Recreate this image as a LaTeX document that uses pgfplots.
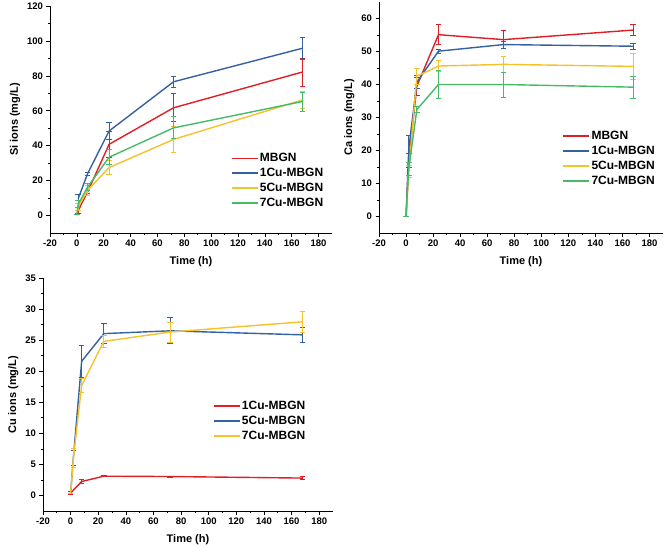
\documentclass[border=0pt]{standalone}
\usepackage{fontspec}
\setmainfont{Liberation Sans}
\usepackage{pgfplots}
\pgfplotsset{compat=1.18}
\usepackage{pgfplotstable}
\definecolor{cred}{RGB}{224,30,38}
\definecolor{cblue}{RGB}{52,98,160}
\definecolor{cyel}{RGB}{246,194,42}
\definecolor{cgreen}{RGB}{70,186,104}

\pgfplotstableread{
x y e
1 3 1.5
8 13.5 1
24 40.8 7.5
72 61.7 8
168 82.2 8
}\SiA
\pgfplotstableread{
x y e
1 9.7 2.5
8 24 0.8
24 48.4 4.7
72 76.6 3
168 95.8 6.2
}\SiB
\pgfplotstableread{
x y e
1 5 2
8 14.5 3
24 27.5 4
72 43.6 7.4
168 66.2 5
}\SiC
\pgfplotstableread{
x y e
0 0.5 0
1 6.5 2
8 16.3 2
24 33.4 4.2
72 50.2 6.3
168 65.3 5.4
}\SiD

\pgfplotstableread{
x y e
0 0 0
2 17 2
8 39.5 2.8
24 55.1 3
72 53.6 2.8
168 56.5 1.6
}\CaA
\pgfplotstableread{
x y e
0 0 0
2 20.5 4
8 40.7 2
24 50.1 0.6
72 52.1 1.1
168 51.6 1
}\CaB
\pgfplotstableread{
x y e
0 0 0
2 13.7 1.8
8 42.5 2.5
24 45.6 1.6
72 46.1 2.3
168 45.5 3.9
}\CaC
\pgfplotstableread{
x y e
0 0 0
2 14.5 2
8 32.4 1
24 40 4.3
72 40 3.8
168 39.2 3.4
}\CaD

\pgfplotstableread{
x y e
0 0.4 0.2
8 2.25 0.3
24 3.1 0.1
72 3.05 0.1
168 2.8 0.2
}\CuA
\pgfplotstableread{
x y e
0 0.3 0
2 6.1 1.2
8 21.6 2.6
24 26.05 1.65
72 26.5 2.1
168 25.85 1.2
}\CuB
\pgfplotstableread{
x y e
0 0.3 0
2 6 1.5
8 17.7 1.1
24 24.8 0.9
72 26.3 1.6
168 27.95 1.7
}\CuC

\pgfplotsset{
  myax/.style={
    scale only axis,
    axis lines=left,
    axis line style={-, line width=0.9pt},
    tick align=outside,
    tick style={black, line width=0.7pt},
    major tick length=3.5pt,
    minor tick length=2pt,
    minor x tick num=1,
    minor y tick num=1,
    xmin=-20, xmax=190,
    xtick={-20,0,20,40,60,80,100,120,140,160,180},
    ticklabel style={font=\fontsize{9.5}{11}\selectfont\bfseries},
    /pgf/number format/assume math mode=true,
    label style={font=\fontsize{11}{12}\selectfont\bfseries},
    xlabel={Time (h)},
    xlabel style={yshift=-3pt},
    legend style={draw=none, fill=none, font=\fontsize{12}{13}\selectfont\bfseries,
      anchor=north west, nodes={inner sep=1.2pt}, row sep=2.6pt},
    legend cell align=left,
    legend image code/.code={\draw[line width=1.8pt] (0pt,0pt) -- (26pt,0pt);},
    every axis plot/.append style={line width=1.4pt, mark=none},
    error bars/y dir=both,
    error bars/y explicit,
    error bars/error bar style={line width=0.8pt},
    error bars/error mark options={rotate=90, mark size=2.8pt, line width=0.8pt},
  }
}

\begin{document}
\begin{tikzpicture}
\useasboundingbox (0pt,0pt) rectangle (669pt,-552pt);

\begin{axis}[myax, at={(50pt,-233pt)}, anchor=south west, width=282pt, height=227pt,
  ymin=-10, ymax=120, ytick={0,20,40,60,80,100,120},
  ylabel={Si ions (mg/L)},
  legend style={at={(0.63,0.365)}}]
\addplot[cred] table[x=x,y=y,y error=e] {\SiA};
\addplot[cblue] table[x=x,y=y,y error=e] {\SiB};
\addplot[cyel] table[x=x,y=y,y error=e] {\SiC};
\addplot[cgreen] table[x=x,y=y,y error=e] {\SiD};
\legend{MBGN,1Cu-MBGN,5Cu-MBGN,7Cu-MBGN}
\end{axis}

\begin{axis}[myax, at={(379pt,-233pt)}, anchor=south west, width=284pt, height=231pt,
  ymin=-5, ymax=65, ytick={0,10,20,30,40,50,60},
  ylabel={Ca ions (mg/L)},
  legend style={at={(0.635,0.455)}}]
\addplot[cred] table[x=x,y=y,y error=e] {\CaA};
\addplot[cblue] table[x=x,y=y,y error=e] {\CaB};
\addplot[cyel] table[x=x,y=y,y error=e] {\CaC};
\addplot[cgreen] table[x=x,y=y,y error=e] {\CaD};
\legend{MBGN,1Cu-MBGN,5Cu-MBGN,7Cu-MBGN}
\end{axis}

\begin{axis}[myax, at={(43pt,-511pt)}, anchor=south west, width=290pt, height=233pt,
  ymin=-2.5, ymax=35, ytick={0,5,10,15,20,25,30,35},
  ylabel={Cu ions (mg/L)},
  legend style={at={(0.575,0.485)}}]
\addplot[cred] table[x=x,y=y,y error=e] {\CuA};
\addplot[cblue] table[x=x,y=y,y error=e] {\CuB};
\addplot[cyel] table[x=x,y=y,y error=e] {\CuC};
\legend{1Cu-MBGN,5Cu-MBGN,7Cu-MBGN}
\end{axis}
\end{tikzpicture}
\end{document}
